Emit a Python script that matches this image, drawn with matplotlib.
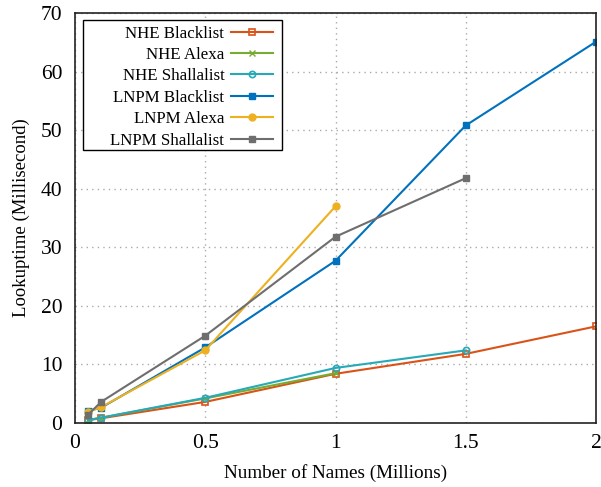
import matplotlib
matplotlib.use("Agg")
import matplotlib.pyplot as plt
from matplotlib.patches import Rectangle

plt.rcParams['font.family'] = ['Liberation Serif', 'DejaVu Serif']

x_full = [0.05, 0.1, 0.5, 1.0, 1.5, 2.0]
nhe_black = [0.5, 0.8, 3.6, 8.4, 11.8, 16.5]
nhe_alexa = [0.5, 0.9, 4.2, 8.5]
nhe_shalla = [0.5, 0.9, 4.3, 9.4, 12.4]
lnpm_black = [2.1, 2.6, 12.9, 27.7, 50.8, 65.1]
lnpm_alexa = [1.9, 2.7, 12.4, 37.0]
lnpm_shalla = [1.4, 3.6, 14.9, 31.8, 41.8]

labels = ["NHE Blacklist", "NHE Alexa", "NHE Shallalist",
          "LNPM Blacklist", "LNPM Alexa", "LNPM Shallalist"]
series = [nhe_black, nhe_alexa, nhe_shalla, lnpm_black, lnpm_alexa, lnpm_shalla]
colors = ["#D95319", "#77AC30", "#27A9B8", "#0072BD", "#EDB120", "#6E6E6E"]
markers = ["s", "x", "o", "s", "o", "s"]
mfc = ["none", None, "none", None, None, None]
msizes = [4.5, 4.5, 4.5, 5, 5, 4]

W, H = 601, 487
L, R, T, B = 75, 596, 13, 423
fig = plt.figure(figsize=(W/100, H/100), dpi=100)
ax = fig.add_axes([L/W, 1 - B/H, (R-L)/W, (B-T)/H])

for y, lab, c, m, f, ms in zip(series, labels, colors, markers, mfc, msizes):
    kw = dict(color=c, marker=m, markersize=ms, linewidth=1.5, label=lab)
    if f == "none":
        kw['markerfacecolor'] = 'none'
        kw['markeredgewidth'] = 1.2
    ax.plot(x_full[:len(y)], y, **kw)

ax.set_xlim(0, 2)
ax.set_ylim(0, 70)
ax.set_xticks([0, 0.5, 1, 1.5, 2])
ax.set_xticklabels(["0", "0.5", "1", "1.5", "2"])
ax.set_yticks(range(0, 71, 10))
ax.tick_params(length=0, labelsize=15.5)
ax.tick_params(axis='x', pad=8)
ax.tick_params(axis='y', pad=9)
ax.grid(True, linestyle=(0, (1, 3)), color="#aaaaaa", linewidth=1)
ax.set_xlabel("Number of Names (Millions)", fontsize=13.8, labelpad=8)
ax.set_ylabel("Lookuptime (Millisecond)", fontsize=13.5, labelpad=8)
for s in ax.spines.values():
    s.set_linewidth(1.2)
    s.set_color("#222222")

# legend frame box (pixel extents of reference)
bx0, bx1, by0, by1 = 83, 282, 20, 150
def ax_x(px):
    return (px - L) / (R - L)
def ax_y(py):
    return (B - py) / (B - T)
rect = Rectangle((ax_x(bx0), ax_y(by1)), ax_x(bx1) - ax_x(bx0), ax_y(by0) - ax_y(by1),
                 transform=ax.transAxes, facecolor="white", edgecolor="black",
                 linewidth=1.0, zorder=4)
ax.add_patch(rect)

leg = ax.legend(loc="upper right", bbox_to_anchor=(ax_x(bx1 - 9), ax_y(by0 + 5.5)),
                markerfirst=False, fontsize=12.2, frameon=False,
                handlelength=2.45, borderaxespad=0, labelspacing=0.32,
                borderpad=0, handletextpad=0.42)
leg.set_zorder(5)
fig.savefig("out.png", dpi=100)
